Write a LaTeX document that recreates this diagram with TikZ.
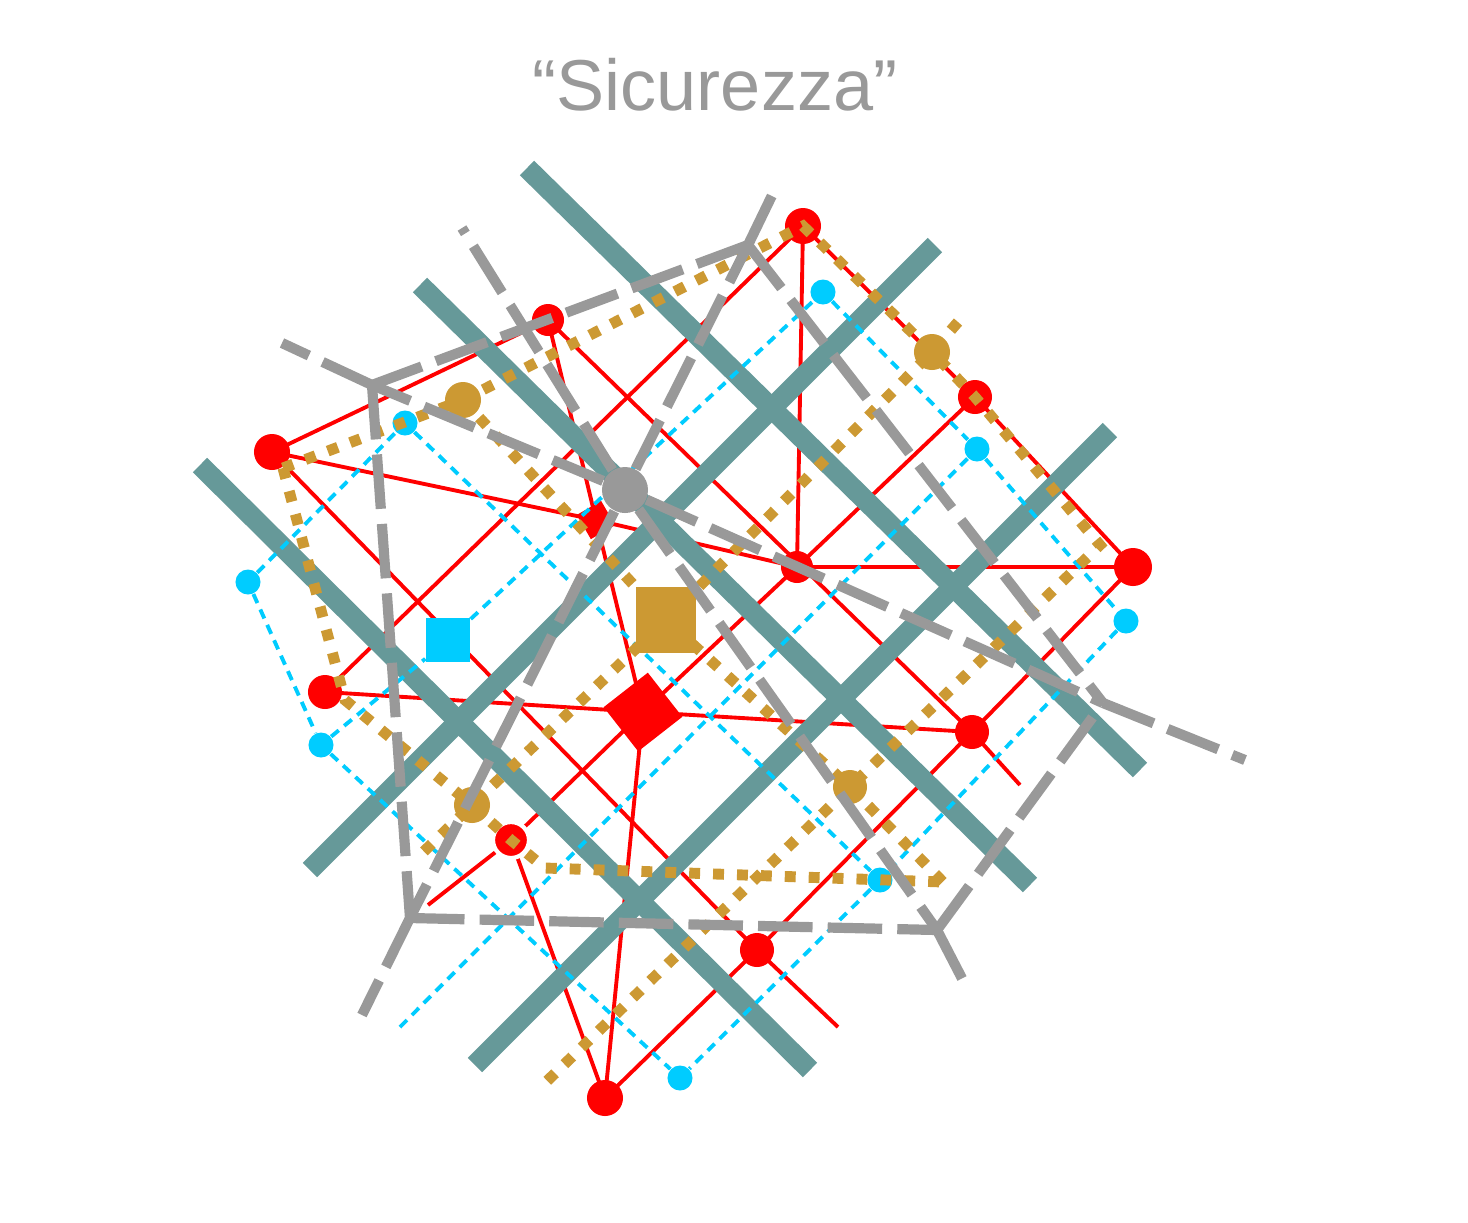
\documentclass[tikz,border=0pt]{standalone}
\usepackage{fontspec}
\setmainfont{Liberation Sans}
\usetikzlibrary{shapes.geometric}
\definecolor{myred}{RGB}{255,0,0}
\definecolor{myteal}{RGB}{102,153,153}
\definecolor{mycyan}{RGB}{0,204,255}
\definecolor{mytan}{RGB}{204,153,51}
\definecolor{mygray}{RGB}{153,153,153}
\pgfdeclarelayer{rl}
\pgfdeclarelayer{rn}
\pgfdeclarelayer{tl}
\pgfdeclarelayer{cl}
\pgfdeclarelayer{cn}
\pgfdeclarelayer{gl}
\pgfdeclarelayer{gn}
\pgfdeclarelayer{sl}
\pgfsetlayers{rl,rn,tl,cl,cn,gl,gn,sl,main}
\tikzset{
  title/.style={font=\fontsize{20.5}{24}\selectfont, text=mygray},
  rdot/.style={circle, fill=myred, inner sep=0pt, minimum size=0.34cm},
  rbox/.style={rectangle, fill=myred, inner sep=0pt},
  cdot/.style={circle, fill=mycyan, inner sep=0pt, minimum size=0.25cm},
  cbox/.style={rectangle, fill=mycyan, inner sep=0pt, minimum size=0.44cm},
  gdot/.style={circle, fill=mytan, inner sep=0pt, minimum size=0.36cm},
  gbox/.style={rectangle, fill=mytan, inner sep=0pt, minimum width=0.6cm, minimum height=0.66cm},
  hubdot/.style={circle, fill=mygray, inner sep=0pt, minimum size=0.46cm},
  rline/.style={draw=myred, line width=1.1pt},
  bar/.style={draw=myteal, line width=5.8pt},
  cline/.style={draw=mycyan, line width=1.1pt, dash pattern=on 2.8pt off 2pt},
  gline/.style={draw=mytan, line width=3.1pt, dash pattern=on 3.1pt off 3.7pt},
  sline/.style={draw=mygray, line width=2.9pt, dash pattern=on 15.5pt off 4.3pt}
}
\begin{document}
\begin{tikzpicture}[x=0.01cm, y=-0.01cm]
  \useasboundingbox (0,0) rectangle (1468,1223);
  \node[title] (ttl) at (715,85) {“Sicurezza”};

  \begin{pgfonlayer}{rn}
  \node[rdot, minimum size=0.36cm] (r1) at (803,226) {};
  \node[rdot, minimum size=0.32cm] (r2) at (548,320) {};
  \node[rdot, minimum size=0.36cm] (r3) at (272,452) {};
  \node[rdot] (r4) at (975,397) {};
  \node[rdot, minimum size=0.38cm] (r5) at (1133,567) {};
  \node[rdot, minimum size=0.32cm] (r6) at (797,567) {};
  \node[rbox, minimum size=0.28cm, rotate=30] (r7) at (596,520) {};
  \node[rdot] (r8) at (325,692) {};
  \node[rbox, minimum size=0.56cm, rotate=38] (r9) at (643,712) {};
  \node[rdot] (r10) at (972,732) {};
  \node[rdot, minimum size=0.36cm, draw=white, line width=1.2pt] (r11) at (511,840) {};
  \node[rdot] (r12) at (757,950) {};
  \node[rdot, minimum size=0.36cm] (r13) at (605,1098) {};
  \end{pgfonlayer}
  \coordinate (re1) at (838,1027);
  \coordinate (re2) at (1020,785);
  \coordinate (re3) at (428,905);

  \begin{pgfonlayer}{cn}
  \node[cdot] (c1) at (823,292) {};
  \node[cdot] (c2) at (405,423) {};
  \node[cdot] (c3) at (977,449) {};
  \node[cdot] (c4) at (248,582) {};
  \node[cdot] (c5) at (1126,621) {};
  \node[cdot] (c6) at (321,745) {};
  \node[cdot] (c7) at (880,880) {};
  \node[cdot] (c8) at (680,1078) {};
  \node[cbox] (cs) at (448,640) {};
  \end{pgfonlayer}
  \coordinate (ce1) at (400,1027);

  \begin{pgfonlayer}{gn}
  \node[gdot] (g1) at (463,400) {};
  \node[gdot] (g2) at (932,352) {};
  \node[gdot] (g3) at (472,805) {};
  \node[gdot, minimum size=0.34cm] (g4) at (850,787) {};
  \node[gbox] (gs) at (666,620) {};
  \end{pgfonlayer}
  \coordinate (ge1) at (283,468);
  \coordinate (ge2) at (1100,545);
  \coordinate (ge3) at (545,1083);
  \coordinate (ge4) at (345,700);
  \coordinate (ge5) at (545,868);
  \coordinate (ge6) at (943,882);
  \coordinate (ge7) at (958,322);
  \coordinate (ge8) at (415,860);

  \node[hubdot] (hub) at (625,490) {};
  \coordinate (v1) at (748,245);
  \coordinate (y1) at (372,385);
  \coordinate (y2) at (410,918);
  \coordinate (y3) at (937,930);
  \coordinate (y4) at (1103,703);
  \coordinate (e1) at (462,228);
  \coordinate (e2) at (778,183);
  \coordinate (e3) at (282,343);
  \coordinate (e4) at (362,1015);
  \coordinate (e5) at (968,990);
  \coordinate (e6) at (1245,760);

  \begin{pgfonlayer}{rl}
  \draw[rline] (r3.center) -- (r2.center);
  \draw[rline] (r3.center) -- (r7.center);
  \draw[rline] (r3.center) -- (r12.center) -- (re1);
  \draw[rline] (r2.center) -- (r10.center) -- (re2);
  \draw[rline] (r2.center) -- (r7.center) -- (r9.center) -- (r13.center);
  \draw[rline] (r7.center) -- (r6.center) -- (r5.center);
  \draw[rline] (r8.center) -- (r9.center) -- (r10.center);
  \draw[rline] (r1.center) -- (r6.center);
  \draw[rline] (r1.center) -- (r4.center) -- (r5.center);
  \draw[rline] (r8.center) -- (r1.center);
  \draw[rline] (re3) -- (r11.center) -- (r9.center) -- (r6.center) -- (r4.center);
  \draw[rline] (r11.center) -- (r13.center);
  \draw[rline] (r13.center) -- (r12.center) -- (r10.center) -- (r5.center);
  \end{pgfonlayer}

  \begin{pgfonlayer}{tl}
  \draw[bar] (527,168) -- (1140,770);
  \draw[bar] (420,285) -- (1030,885);
  \draw[bar] (200,465) -- (810,1070);
  \draw[bar] (310,870) -- (935,245);
  \draw[bar] (475,1065) -- (1110,430);
  \end{pgfonlayer}

  \begin{pgfonlayer}{cl}
  \draw[cline] (c4) -- (c2);
  \draw[cline] (c4) -- (c6);
  \draw[cline] (c2) -- (c7);
  \draw[cline] (c1) -- (c3) -- (c5);
  \draw[cline] (c5) -- (c7) -- (c8);
  \draw[cline] (c6) -- (cs) -- (c1);
  \draw[cline] (c6) -- (c8);
  \draw[cline] (ce1) -- (c3);
  \end{pgfonlayer}

  \begin{pgfonlayer}{gl}
  \draw[gline] (ge1) -- (g1.center) -- (r1.center) -- (g2.center) -- (r4.center) -- (ge2) -- (g4.center) -- (ge3);
  \draw[gline] (ge1) -- (ge4) -- (g3.center) -- (r11.center) -- (ge5) -- (ge6);
  \draw[gline] (g1.center) -- (gs.center) -- (g4.center) -- (ge6);
  \draw[gline] (ge7) -- (g2.center) -- (gs.center) -- (g3.center) -- (ge8);
  \end{pgfonlayer}

  \begin{pgfonlayer}{sl}
  \draw[sline] (hub) -- (e1);
  \draw[sline] (hub) -- (v1);
  \draw[sline] (hub) -- (y1);
  \draw[sline] (hub) -- (y2);
  \draw[sline] (hub) -- (y3);
  \draw[sline] (hub) -- (y4);
  \draw[sline] (v1) -- (e2);
  \draw[sline] (v1) -- (y1);
  \draw[sline] (v1) -- (y4);
  \draw[sline] (y1) -- (e3);
  \draw[sline] (y1) -- (y2);
  \draw[sline] (y2) -- (e4);
  \draw[sline] (y2) -- (y3);
  \draw[sline] (y3) -- (e5);
  \draw[sline] (y3) -- (y4);
  \draw[sline] (y4) -- (e6);
  \end{pgfonlayer}
\end{tikzpicture}
\end{document}
